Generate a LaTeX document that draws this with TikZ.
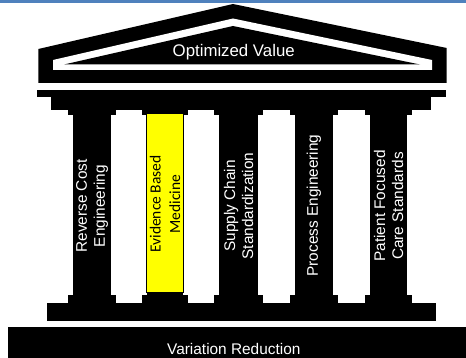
\documentclass[tikz,border=0pt]{standalone}
\usepackage{fontspec}
\setmainfont{Liberation Sans}
\newfontfamily\calibrilike{Carlito}
\definecolor{topband}{RGB}{79,129,189}
\definecolor{pillarhl}{RGB}{255,255,0}
\tikzset{
  solidpart/.style={fill=black, draw=none},
  pillartext/.style={text=white, rotate=90, align=center, inner sep=0pt,
    font=\fontsize{15.4}{18}\selectfont},
}
\begin{document}
\begin{tikzpicture}[x=1pt, y=-1pt]
\useasboundingbox (0,0) rectangle (466,358);
\fill[white] (0,0) rectangle (466,358);
% thin band along the top edge
\fill[topband] (0,0) rectangle (466,3.3);

% pediment: black gable, white inner outline, black inner triangle
\fill[solidpart] (38.3,83) -- (38.3,49) -- (233,4) -- (446.7,48) -- (446.7,83) -- cycle;
\fill[white] (53,70) -- (53,60) -- (233,18.5) -- (432,60) -- (432,70) -- cycle;
\fill[solidpart] (64,64.5) -- (233,26) -- (420,64.5) -- cycle;
\node[text=white, anchor=base, inner sep=0pt, font=\fontsize{16.8}{19}\selectfont]
  (roof) at (233.7,57) {Optimized Value};

% architrave
\fill[solidpart] (37.3,90) rectangle (446,97.3);
\fill[solidpart] (50.7,97.3) rectangle (430.7,110);

% columns: shaft, capital and base
\foreach \l/\r in {73.3/110.7, 146.7/182.7, 219.3/257.7, 295.3/332.7, 370/407}{
  \fill[solidpart] (\l-5,109.5) rectangle (\r+5,115);
  \fill[solidpart] (\l,110) rectangle (\r,295);
  \fill[solidpart] (\l-5,294.5) rectangle (\r+5,303.5);
}
% highlighted column
\filldraw[fill=pillarhl, draw=black, line width=0.9pt] (146.2,113) rectangle (183,292.7);

% plinth
\fill[solidpart] (46.7,303.3) rectangle (435.7,320.7);

% foundation
\fill[solidpart] (8.3,326.7) rectangle (466,358);
\node[text=white, anchor=base, inner sep=0pt, font=\fontsize{15.4}{18}\selectfont]
  (base) at (233.8,354) {Variation Reduction};

% column labels
\node[pillartext] (p1) at (92,206) {Reverse Cost\\Engineering};
\node[pillartext, text=black, font=\calibrilike\fontsize{15.5}{19.5}\selectfont]
  (p2) at (165,204) {Evidence Based\\Medicine};
\node[pillartext] (p3) at (238.5,206) {Supply Chain\\Standardization};
\node[pillartext] (p4) at (314,205.5) {Process Engineering};
\node[pillartext] (p5) at (388.5,206) {Patient Focused\\Care Standards};
\end{tikzpicture}
\end{document}
